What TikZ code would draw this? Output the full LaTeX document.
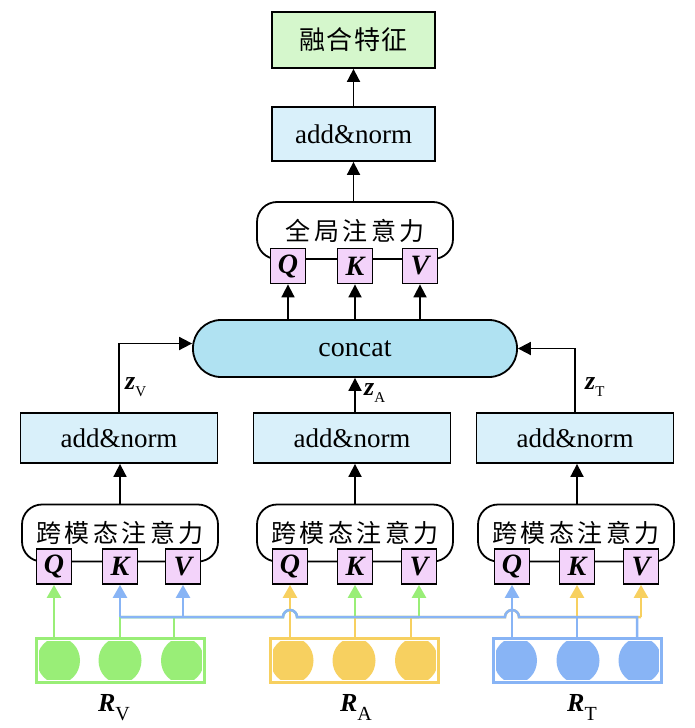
\documentclass[tikz,border=0pt]{standalone}
\usepackage{fontspec}
\setmainfont{Liberation Serif}
\newfontfamily\cjk{Noto Sans CJK SC}
\usetikzlibrary{arrows.meta,calc}
\definecolor{gline}{RGB}{153,238,119}
\definecolor{yline}{RGB}{247,208,96}
\definecolor{bline}{RGB}{136,180,245}
\definecolor{anfill}{RGB}{217,240,250}
\definecolor{ccfill}{RGB}{176,226,242}
\definecolor{fufill}{RGB}{213,247,204}
\definecolor{qkvfill}{RGB}{243,211,250}
\newcommand{\cjsp}{\hspace{3.5pt}}
\newcommand{\Rlab}[1]{{\fontsize{26}{26}\selectfont\bfseries\itshape R}\raisebox{-9pt}{\fontsize{20}{20}\selectfont #1}}
\newcommand{\zlab}[1]{{\fontsize{26}{26}\selectfont\bfseries\itshape z}\raisebox{-7pt}{\fontsize{15}{15}\selectfont #1}}
\tikzset{
  bx/.style={draw=black, line width=1.8pt, inner sep=0pt},
  an/.style={bx, fill=anfill, minimum width=197pt, minimum height=50pt, font=\fontsize{27}{27}\selectfont},
  att/.style={bx, fill=white, rounded corners=20pt, minimum width=196pt, minimum height=57pt, font=\cjk\fontsize{25}{25}\selectfont},
  qkv/.style={bx, fill=qkvfill, minimum size=35pt, font=\fontsize{28}{28}\selectfont\bfseries\itshape},
  arr/.style={line width=1.8pt, -{Triangle[length=13pt,width=13pt]}},
  cl/.style={line width=2.5pt},
  carr/.style={line width=2.5pt, -{Triangle[length=13pt,width=14pt]}},
  rbox/.style={draw=#1, line width=2.5pt, minimum width=168pt, minimum height=44pt, inner sep=0pt},
}
\begin{document}
\begin{tikzpicture}[x=1pt,y=-1pt]
\fill[white] (0,0) rectangle (695,728);
\useasboundingbox (0,0) rectangle (695,728);

% top column
\node[bx, fill=fufill, minimum width=163pt, minimum height=56pt, font=\cjk\fontsize{26}{26}\selectfont] (fu) at (353.5,40) {融\hspace{1.5pt}合\hspace{1.5pt}特\hspace{1.5pt}征};
\node[an, minimum width=163pt, minimum height=54pt] (an0) at (353.5,134) {add\&norm};
\node[att] (attG) at (355,230.5) {全\cjsp 局\cjsp 注\cjsp 意\cjsp 力};
\node[qkv] (qG) at (288,266) {Q};
\node[qkv] (kG) at (355,266) {K};
\node[qkv] (vG) at (420,266) {V};

\node[bx, fill=ccfill, rounded corners=28pt, minimum width=324pt, minimum height=57pt, font=\fontsize{28}{28}\selectfont] (cc) at (355,348.5) {concat};

% add&norm row
\node[an] (anL) at (119,438) {add\&norm};
\node[an] (anM) at (352,438) {add\&norm};
\node[an] (anR) at (575,438) {add\&norm};

% cross attention
\node[att] (attL) at (120,533) {跨\cjsp 模\cjsp 态\cjsp 注\cjsp 意\cjsp 力};
\node[att] (attM) at (355,533) {跨\cjsp 模\cjsp 态\cjsp 注\cjsp 意\cjsp 力};
\node[att] (attR) at (576,533) {跨\cjsp 模\cjsp 态\cjsp 注\cjsp 意\cjsp 力};
\node[qkv] (qL) at (54,566.5) {Q};
\node[qkv] (kL) at (120,566.5) {K};
\node[qkv] (vL) at (183,566.5) {V};
\node[qkv] (qM) at (290,566.5) {Q};
\node[qkv] (kM) at (355,566.5) {K};
\node[qkv] (vM) at (419,566.5) {V};
\node[qkv] (qR) at (512,566.5) {Q};
\node[qkv] (kR) at (577,566.5) {K};
\node[qkv] (vR) at (641,566.5) {V};

% black arrows
\draw[arr] (an0.south |- attG.north) -- (an0.south);
\draw[arr] (an0.north) -- (fu.south);
\draw[arr] (qG.south |- cc.north) -- (qG.south);
\draw[arr] (kG.south |- cc.north) -- (kG.south);
\draw[arr] (vG.south |- cc.north) -- (vG.south);
\draw[arr] (anL.north) |- ($(cc.west)+(0,-5)$);
\draw[arr] (anR.north) |- (cc.east);
\draw[arr] (attM.north |- anM.north) -- (attM.north |- cc.south);
\draw[arr] (attL.north) -- (attL.north |- anL.south);
\draw[arr] (attM.north) -- (attM.north |- anM.south);
\draw[arr] (577,0 |- attR.north) -- (577,0 |- anR.south);

% z labels
\node[anchor=base west, inner sep=0pt] (zV) at (125,389) {\zlab{V}};
\node[anchor=base west, inner sep=0pt] (zA) at (364,395) {\zlab{A}};
\node[anchor=base west, inner sep=0pt] (zT) at (585,389) {\zlab{T}};

% R boxes
\node[rbox=gline] (rV) at (120.5,660.5) {};
\node[rbox=yline] (rA) at (354.5,660.5) {};
\node[rbox=bline] (rT) at (577.5,660.5) {};
\begin{scope}
  \clip (rV.south west) rectangle (rV.north east);
  \foreach \cx in {58.5,120,182.5} \fill[gline] (\cx,660.5) ellipse [x radius=21.5, y radius=23];
\end{scope}
\begin{scope}
  \clip (rA.south west) rectangle (rA.north east);
  \foreach \cx in {292,354,416.5} \fill[yline] (\cx,660.5) ellipse [x radius=21.5, y radius=23];
\end{scope}
\begin{scope}
  \clip (rT.south west) rectangle (rT.north east);
  \foreach \cx in {515.5,578,640} \fill[bline] (\cx,660.5) ellipse [x radius=21.5, y radius=23];
\end{scope}
\foreach \b in {rV,rA,rT} {
  \draw[white, line width=1.5pt] ($(\b.south west)+(2.8,-2.8)$) rectangle ($(\b.north east)+(-2.8,2.8)$);
}
\node[rbox=gline] at (rV) {};
\node[rbox=yline] at (rA) {};
\node[rbox=bline] at (rT) {};

\node[anchor=base, inner sep=0pt] (lV) at (114,711) {\Rlab{V}};
\node[anchor=base, inner sep=0pt] (lA) at (356,711) {\Rlab{A}};
\node[anchor=base, inner sep=0pt] (lT) at (582,711) {\Rlab{T}};

% green (R_V)
\draw[carr, gline] (qL.south |- rV.north) -- (qL.south);
\draw[cl, gline] (120,0 |- rV.north) -- (120,617);
\draw[cl, gline] (174,0 |- rV.north) -- (174,617);
\draw[cl, gline] (120,617) -- (283,617) arc[start angle=180,end angle=360,radius=7] -- (419,617);
\draw[carr, gline] (kM.south |- 0,617) -- (kM.south);
\draw[carr, gline] (vM.south |- 0,617) -- (vM.south);

% yellow (R_A)
\draw[carr, yline] (qM.south |- rA.north) -- (qM.south);
\draw[cl, yline] (355,0 |- rA.north) -- (355,617);
\draw[cl, yline] (411,0 |- rA.north) -- (411,617);
\draw[cl, yline] (355,617) -- (505,617) arc[start angle=180,end angle=360,radius=7] -- (641,617);
\draw[carr, yline] (kR.south |- 0,617) -- (kR.south);
\draw[carr, yline] (641,617) -- (vR.south);

% blue (R_T)
\draw[carr, bline] (qR.south |- rT.north) -- (qR.south);
\draw[cl, bline] (577,0 |- rT.north) -- (577,617);
\draw[cl, bline] (637,0 |- rT.north) -- (637,617) -- (519,617)
   arc[start angle=0,end angle=-180,radius=7] -- (297,617)
   arc[start angle=0,end angle=-180,radius=7] -- (120,617);
\draw[carr, bline] (120,617) -- (kL.south);
\draw[carr, bline] (vL.south |- 0,617) -- (vL.south);
\end{tikzpicture}
\end{document}
